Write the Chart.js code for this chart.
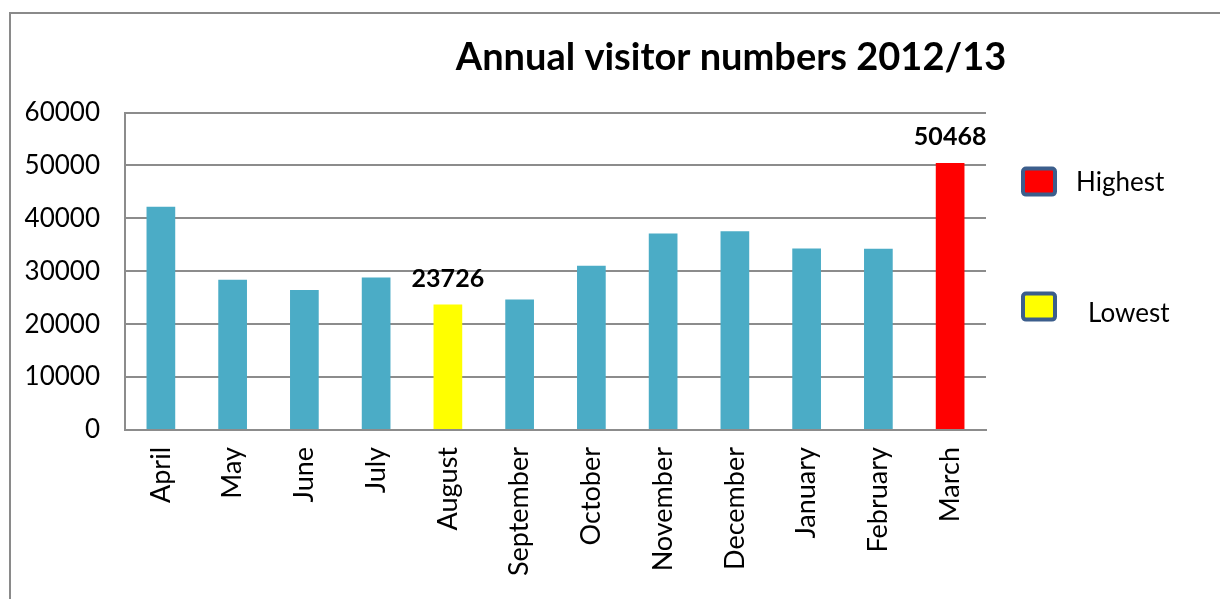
<!DOCTYPE html>
<html>
<head>
<meta charset="utf-8">
<title>Annual visitor numbers 2012/13</title>
<script src="https://cdn.jsdelivr.net/npm/chart.js@4.4.1/dist/chart.umd.min.js"></script>
<style>
    body { margin: 0; overflow: hidden; background: #fff; }
    #frame {
        position: absolute;
        left: 9px;
        top: 12px;
        width: 1440px;
        height: 640px;
        border: 2px solid #8a8a8a;
    }
    #visitorChart { display: block; }
</style>
</head>
<body>
<div id="frame">
    <canvas id="visitorChart" width="1440" height="620"></canvas>
</div>
<script>
// visitor numbers per month, April 2012 to March 2013
const months = ["April", "May", "June", "July", "August", "September",
    "October", "November", "December", "January", "February", "March"];
const visitors = [42200, 28400, 26450, 28850, 23726, 24660,
    31030, 37140, 37580, 34330, 34270, 50468];

const legendLabels = ["Highest", "Lowest"];
const legendColors = ["#ff0000", "#ffff00"];

const baseColor = "#4bacc6";
const fontFamily = "Lato, 'DejaVu Sans', sans-serif";

window.onload = function () {
    const highest = visitors.indexOf(Math.max(...visitors));
    const lowest = visitors.indexOf(Math.min(...visitors));

    // highest month red, lowest yellow, the rest blue
    const barColors = visitors.map((v, i) => {
        if (i === highest) return legendColors[0];
        if (i === lowest) return legendColors[1];
        return baseColor;
    });

    // writes the value above the highest and lowest bars
    const valueLabels = {
        id: "valueLabels",
        afterDatasetsDraw(chart) {
            const ctx = chart.ctx;
            const meta = chart.getDatasetMeta(0);
            ctx.save();
            ctx.font = "bold 25px " + fontFamily;
            ctx.fillStyle = "#000";
            ctx.textAlign = "center";
            ctx.textBaseline = "middle";
            [highest, lowest].forEach(i => {
                const bar = meta.data[i];
                ctx.fillText(String(visitors[i]), bar.x, bar.y - 26);
            });
            ctx.restore();
        }
    };

    // the two-entry key to the right of the plot
    const sideLegend = {
        id: "sideLegend",
        afterDraw(chart) {
            const ctx = chart.ctx;
            const area = chart.chartArea;
            const rows = [
                { boxY: area.top + 56, textX: area.right + 90, textY: area.top + 70 },
                { boxY: area.top + 181, textX: area.right + 102, textY: area.top + 201 }
            ];
            ctx.save();
            rows.forEach((row, i) => {
                ctx.beginPath();
                ctx.roundRect(area.right + 37, row.boxY, 32, 26, 3);
                ctx.fillStyle = legendColors[i];
                ctx.fill();
                ctx.lineWidth = 4;
                ctx.strokeStyle = "#3c5e8c";
                ctx.stroke();

                ctx.font = "26px " + fontFamily;
                ctx.fillStyle = "#000";
                ctx.textAlign = "left";
                ctx.textBaseline = "middle";
                ctx.fillText(legendLabels[i], row.textX, row.textY);
            });
            ctx.restore();
        }
    };

    const ctx = document.getElementById("visitorChart").getContext("2d");
    new Chart(ctx, {
        type: "bar",
        data: {
            labels: months,
            datasets: [{
                data: visitors,
                backgroundColor: barColors,
                borderWidth: 0,
                barPercentage: 0.4,
                categoryPercentage: 1
            }]
        },
        options: {
            responsive: false,
            animation: false,
            devicePixelRatio: 1,
            layout: {
                padding: 0
            },
            plugins: {
                legend: { display: false },
                tooltip: { enabled: false },
                title: {
                    display: true,
                    text: "Annual visitor numbers 2012/13",
                    color: "#000",
                    font: { family: fontFamily, size: 38, weight: "bold", lineHeight: 1.2 },
                    padding: { top: 21, bottom: 32 }
                }
            },
            scales: {
                x: {
                    grid: { display: false, drawTicks: false },
                    border: { color: "#8c8c8c", width: 2 },
                    ticks: {
                        color: "#000",
                        font: { family: fontFamily, size: 27 },
                        minRotation: 90,
                        maxRotation: 90,
                        padding: 17,
                        autoSkip: false
                    },
                    afterFit: function (scale) {
                        scale.height = 204;
                    }
                },
                y: {
                    min: 0,
                    max: 60000,
                    grid: { color: "#8c8c8c", lineWidth: 2, drawTicks: false },
                    border: { color: "#8c8c8c", width: 2 },
                    ticks: {
                        stepSize: 10000,
                        color: "#000",
                        font: { family: fontFamily, size: 26 },
                        padding: 25,
                        callback: value => String(value)
                    },
                    afterFit: function (scale) {
                        scale.width = 114;
                    }
                },
                // empty axis that keeps room on the right for the key
                side: {
                    position: "right",
                    display: true,
                    grid: { display: false, drawTicks: false },
                    border: { display: false },
                    ticks: { display: false },
                    afterFit: function (scale) {
                        scale.width = 465;
                    }
                }
            }
        },
        plugins: [valueLabels, sideLegend]
    });
};
</script>
</body>
</html>
